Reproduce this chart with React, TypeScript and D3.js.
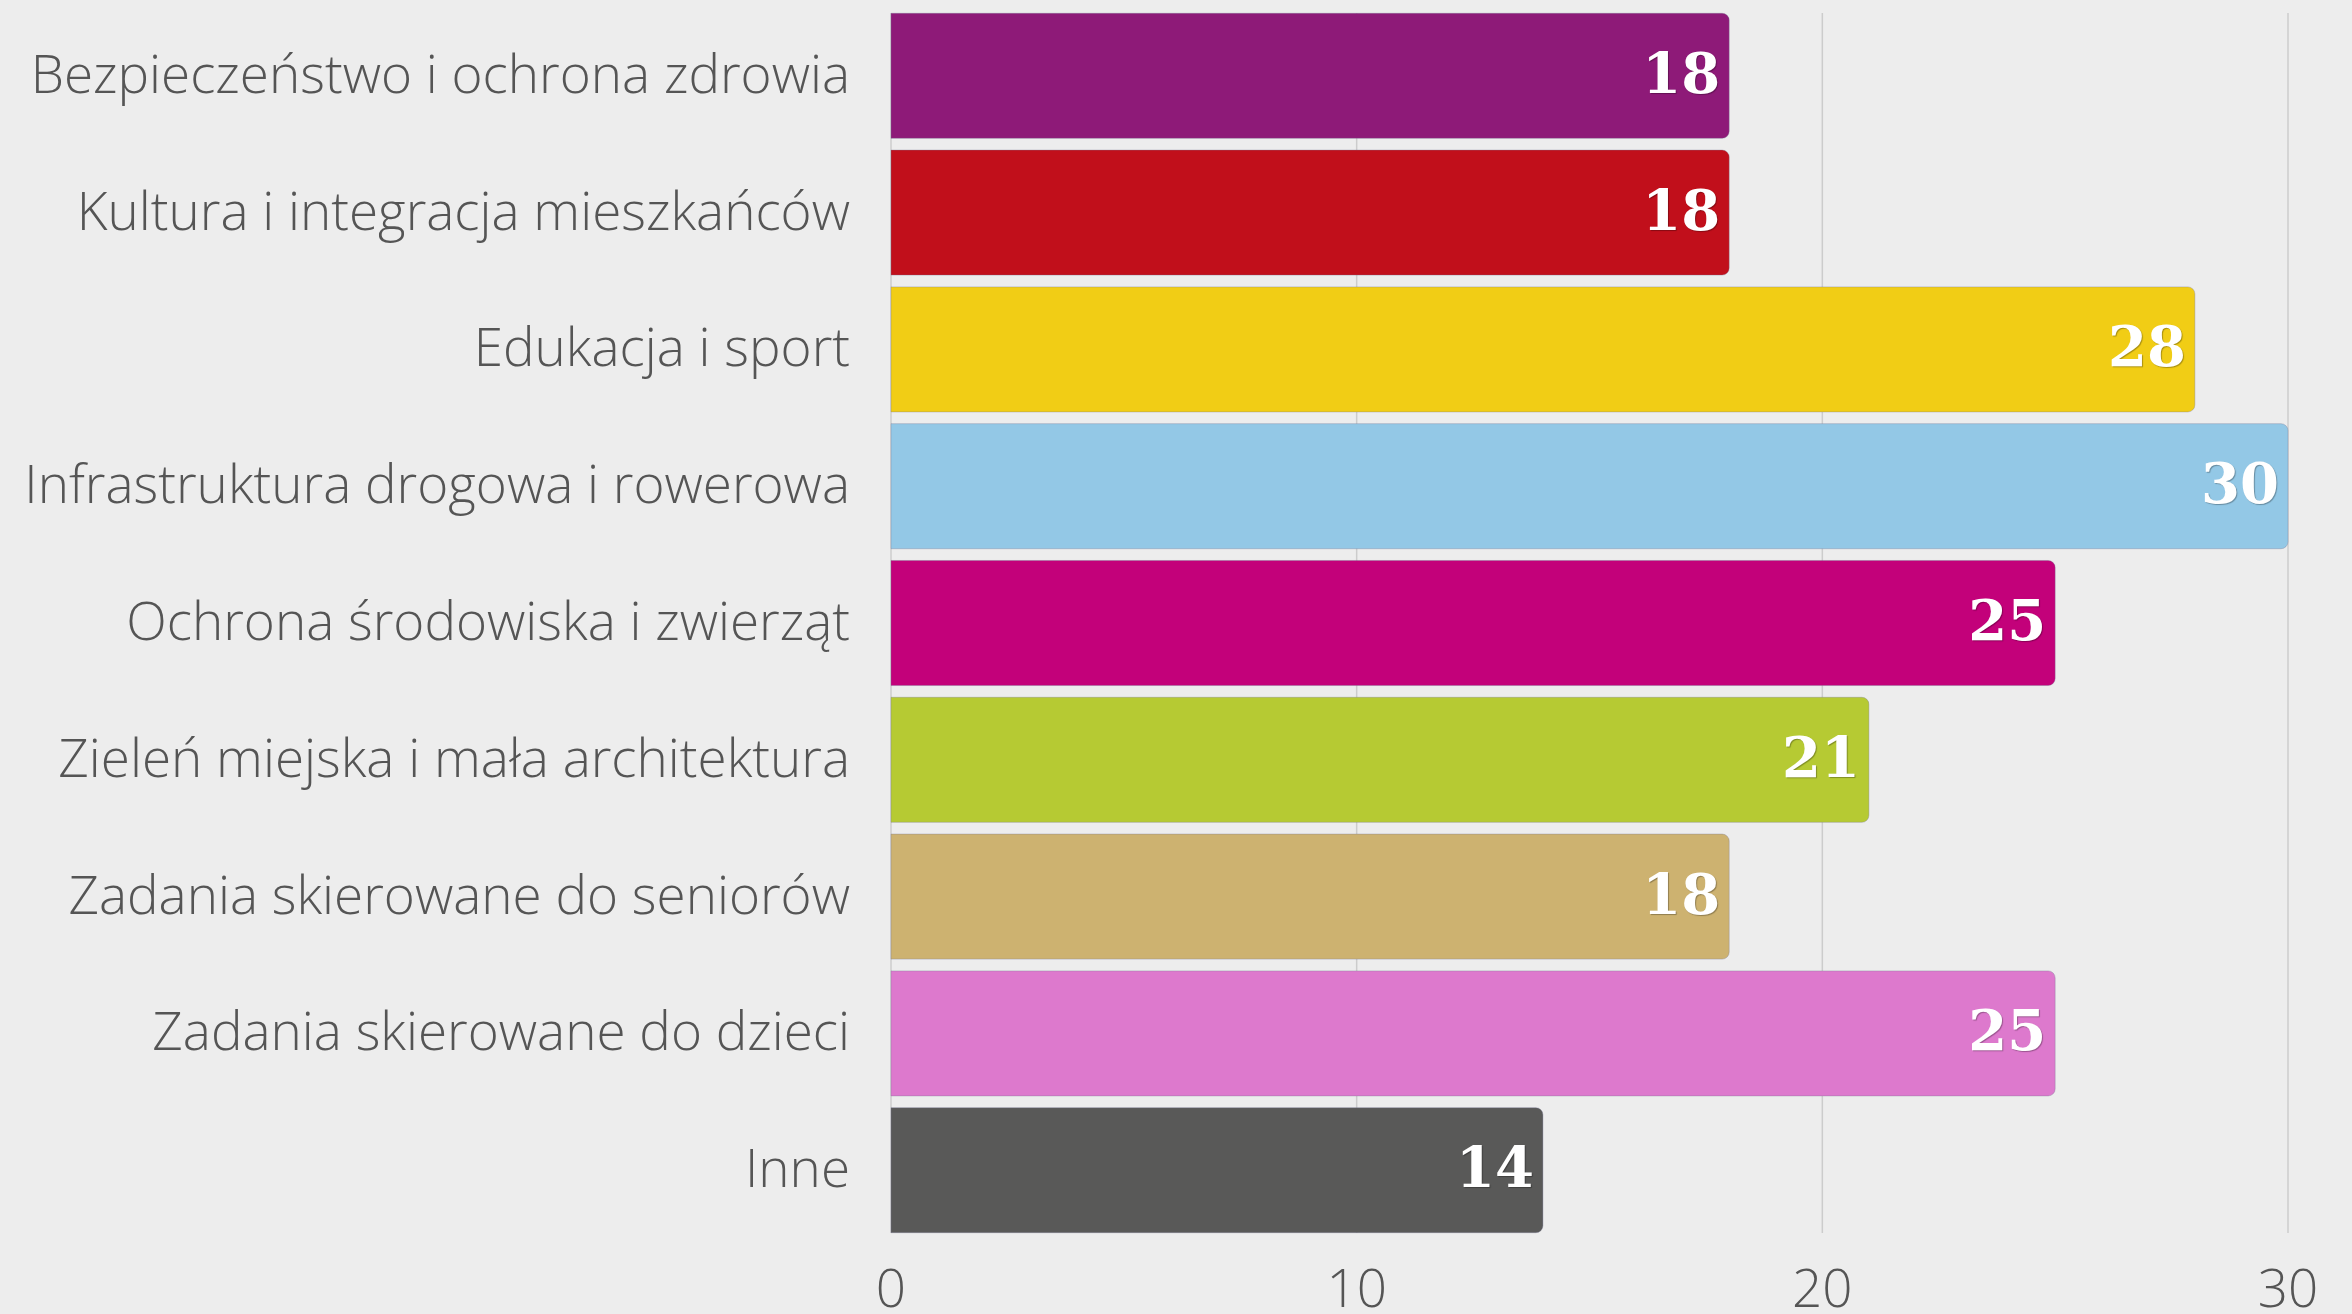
import React from "react";
import * as d3 from "d3";

const categories = [
  "Bezpieczeństwo i ochrona zdrowia",
  "Kultura i integracja mieszkańców",
  "Edukacja i sport",
  "Infrastruktura drogowa i rowerowa",
  "Ochrona środowiska i zwierząt",
  "Zieleń miejska i mała architektura",
  "Zadania skierowane do seniorów",
  "Zadania skierowane do dzieci",
  "Inne",
];
const values = [18, 18, 28, 30, 25, 21, 18, 25, 14];
const colors = [
  "#8e1a78",
  "#c10f1b",
  "#f1cd15",
  "#93c8e6",
  "#c3017a",
  "#b6ca33",
  "#cdb270",
  "#dd79cd",
  "#595958",
];
const xTicks = [0, 10, 20, 30];

const W = 2352;
const H = 1314;

export default function App() {
  const x = d3.scaleLinear().domain([0, 30]).range([891, 2288]);
  const y = d3
    .scaleBand<string>()
    .domain(categories)
    .range([7.4, 1238.6])
    .paddingInner(0.086)
    .paddingOuter(0.043);
  const bh = y.bandwidth();
  const r = 7;

  const barPath = (v: number, top: number) => {
    const p = d3.path();
    const x0 = x(0);
    const x1 = x(v);
    p.moveTo(x0, top);
    p.lineTo(x1 - r, top);
    p.arcTo(x1, top, x1, top + r, r);
    p.lineTo(x1, top + bh - r);
    p.arcTo(x1, top + bh, x1 - r, top + bh, r);
    p.lineTo(x0, top + bh);
    p.closePath();
    return p.toString();
  };

  return (
    <div style={{ position: "absolute", left: 0, top: 0 }}>
      <svg width={W} height={H} style={{ display: "block", background: "#ededed" }}>
        <rect x={0} y={0} width={W} height={H} fill="#ededed" />
        {xTicks.map((t) => (
          <line
            key={"g" + t}
            x1={x(t)}
            x2={x(t)}
            y1={13}
            y2={1233}
            stroke="#cccccc"
            strokeWidth={1.5}
          />
        ))}
        {categories.map((c, i) => {
          const top = y(c)!;
          return (
            <g key={c}>
              <path
                d={barPath(values[i], top)}
                fill={colors[i]}
                stroke="rgba(120,120,150,0.35)"
                strokeWidth={1}
              />
              <text
                x={x(values[i]) - 9}
                y={top + bh / 2 + 17}
                textAnchor="end"
                fill="#ffffff"
                fontFamily="'DejaVu Serif', 'Liberation Serif', serif"
                fontWeight={700}
                fontSize={56}
                style={{ textShadow: "1px 1px 1px rgba(0,0,0,0.3)" }}
              >
                {values[i]}
              </text>
              <text
                x={850}
                y={top + bh / 2 + 17}
                textAnchor="end"
                fill="#555555"
                fontFamily="'Open Sans', sans-serif"
                fontWeight={300}
                fontSize={53}
              >
                {c}
              </text>
            </g>
          );
        })}
        {xTicks.map((t) => (
          <text
            key={"t" + t}
            x={x(t)}
            y={1307}
            textAnchor="middle"
            fill="#555555"
            fontFamily="'Open Sans', sans-serif"
            fontWeight={300}
            fontSize={53}
          >
            {t}
          </text>
        ))}
      </svg>
    </div>
  );
}
